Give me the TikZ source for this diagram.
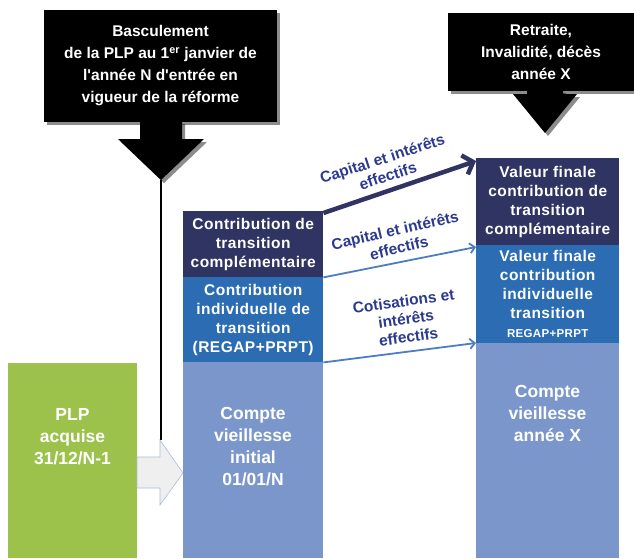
\documentclass[tikz,border=0pt]{standalone}
\usepackage{fontspec}
\setmainfont{Liberation Sans}
\usetikzlibrary{arrows.meta,shadows}

\definecolor{bleunuit}{HTML}{2F3462}
\definecolor{bleumoyen}{HTML}{2B6CB3}
\definecolor{bleuclair}{HTML}{7B96CB}
\definecolor{vertplp}{HTML}{9CC24B}
\definecolor{bleutexte}{HTML}{2B3A8F}
\definecolor{bleufleche}{HTML}{4A7EBE}
\definecolor{grisfleche}{HTML}{EFEFEF}
\definecolor{bordfleche}{HTML}{A9BCD8}

\tikzset{
	bandeau/.style={fill=black, text=white, align=center, inner sep=0pt,
		font=\fontsize{15.5}{22}\selectfont\bfseries, ombre},
	ombre/.style={drop shadow={shadow xshift=3pt, shadow yshift=-3pt, fill=black, opacity=.45}},
	boite/.style={anchor=north west, inner sep=0pt, text=white, align=center,
		font=\fontsize{15.5}{19}\selectfont\bfseries\addfontfeature{LetterSpace=3}},
	grandtexte/.style={text=white, align=center, inner sep=0pt,
		font=\fontsize{17.5}{22}\selectfont\bfseries},
	etiquette/.style={text=bleutexte, align=center, inner sep=0pt,
		font=\fontsize{15.5}{18}\selectfont\bfseries},
	fleche/.style={bleufleche, line width=1.8pt, -{Straight Barb[length=5pt,width=10pt]}}
}

\begin{document}
\begin{tikzpicture}[x=1pt, y=-1pt]
	\useasboundingbox (0,0) rectangle (634,558);

	% bandeaux du haut
	\fill[black, ombre] (140,121) -- (140,139) -- (118,139) -- (161,180) -- (204,139) -- (182,139) -- (182,121) -- cycle;
	\node[bandeau, minimum width=233pt, minimum height=112pt] (bascul) at (160.5,66)
		{Basculement\\de la PLP au 1\textsuperscript{er} janvier de\\l\textquotesingle année N d\textquotesingle entrée en\\vigueur de la réforme};
	\fill[black, ombre] (527,90) -- (527,94) -- (513,94) -- (545,133) -- (577,94) -- (563,94) -- (563,90) -- cycle;
	\node[bandeau, minimum width=186pt, minimum height=78pt] (retraite) at (541,52)
		{Retraite,\\Invalidité, décès\\année X};

	\coordinate (pointeg) at (161,180);
	\coordinate (basg) at (161,440);

	% colonne PLP
	\node[boite, fill=vertplp, minimum width=129pt, minimum height=195pt] (plp) at (8,363) {};
	\node[grandtexte] (plptxt) at (72.5,437) {PLP\\acquise\\31/12/N-1};

	% colonne 01/01/N
	\node[boite, fill=bleunuit, minimum width=140pt, minimum height=66pt] (ctc) at (183,211)
		{Contribution de\\transition\\complémentaire};
	\node[boite, fill=bleumoyen, minimum width=140pt, minimum height=85pt] (ict) at (183,277)
		{Contribution\\individuelle de\\transition\\(REGAP+PRPT)};
	\node[boite, fill=bleuclair, minimum width=140pt, minimum height=196pt] (cvi) at (183,362) {};
	\node[grandtexte] (cvitxt) at (253,447) {Compte\\vieillesse\\initial\\01/01/N};

	% colonne annee X
	\node[boite, fill=bleunuit, minimum width=143pt, minimum height=87pt] (vfc) at (476,158)
		{Valeur finale\\contribution de\\transition\\complémentaire};
	\node[boite, fill=bleumoyen, minimum width=143pt, minimum height=98pt] (vfi) at (476,245)
		{Valeur finale\\contribution\\individuelle\\transition\\{\fontsize{11.5}{14}\selectfont REGAP+PRPT}};
	\node[boite, fill=bleuclair, minimum width=143pt, minimum height=215pt] (cvx) at (476,343) {};
	\node[grandtexte] (cvxtxt) at (547.5,413) {Compte\\vieillesse\\année X};

	% fleche de basculement
	\draw[line width=2pt] (pointeg) -- (basg);
	\filldraw[fill=grisfleche, draw=bordfleche, line width=.6pt]
		(137,457) -- (160,457) -- (160,440) -- (183,473) -- (160,505) -- (160,488) -- (137,488) -- cycle;

	% capitalisation
	\draw[bleunuit, line width=4.5pt, -{Straight Barb[length=9pt,width=20pt]}]
		([yshift=-2pt]ctc.north east) -- ([yshift=-3pt]vfc.north west);
	\draw[fleche] (ctc.south east) -- ([yshift=-2pt]vfi.north west);
	\draw[fleche] (ict.south east) -- (cvx.north west);

	\node[etiquette, rotate=18] (lab1) at (385,167) {Capital et intérêts\\effectifs};
	\node[etiquette, rotate=13] (lab2) at (397,239) {Capital et intérêts\\effectifs};
	\node[etiquette, rotate=8] (lab3) at (406,319) {Cotisations et\\intérêts\\effectifs};
\end{tikzpicture}
\end{document}
